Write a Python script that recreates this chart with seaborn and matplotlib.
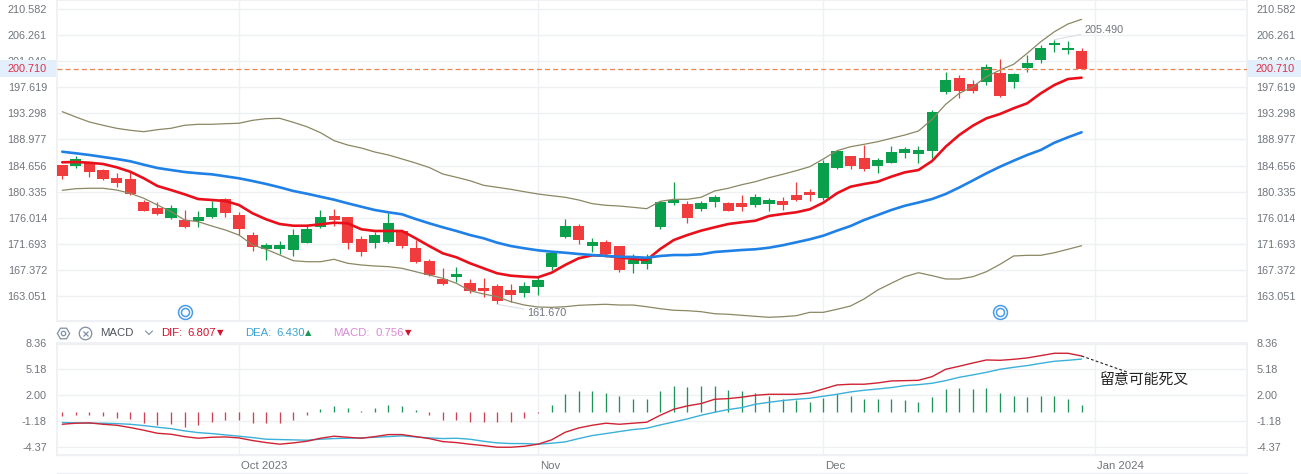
import matplotlib

matplotlib.use("Agg")

import matplotlib.pyplot as plt
import numpy as np
import pandas as pd
import seaborn as sns
from matplotlib.lines import Line2D
from matplotlib.patches import Rectangle
from matplotlib.transforms import ScaledTranslation

# daily candles
opens = [184.7, 184.6, 185.1, 183.9, 182.6, 182.5, 178.6, 177.7, 175.9, 175.6, 175.5, 176.1, 179.1, 176.5, 173.2, 170.9, 170.9, 170.6, 171.9,
         174.4, 176.3, 176.1, 172.5, 171.9, 172.0, 173.8, 171.0, 168.9, 165.8, 166.2, 165.2, 164.4, 164.7, 164.0, 163.6, 164.6, 167.9, 172.9,
         174.6, 171.3, 172.0, 171.3, 168.4, 168.4, 174.4, 178.5, 178.3, 177.5, 178.6, 178.5, 178.4, 178.2, 178.3, 178.8, 179.8, 180.3, 179.3,
         184.3, 186.2, 185.9, 184.5, 185.1, 186.8, 186.6, 187.1, 196.9, 199.1, 198.2, 198.5, 199.9, 198.5, 200.75, 202.1, 204.6, 203.7, 203.6]
highs = [184.7, 186.2, 185.2, 184.0, 183.4, 183.7, 179.0, 178.6, 178.1, 177.3, 177.1, 178.7, 179.3, 177.0, 173.6, 171.8, 172.2, 174.1, 174.8,
         177.3, 177.5, 176.1, 173.0, 173.7, 176.8, 173.9, 172.3, 169.2, 167.7, 167.8, 165.8, 166.0, 165.0, 165.0, 165.3, 166.2, 170.5, 175.8,
         175.0, 172.7, 172.3, 171.3, 170.0, 170.0, 178.7, 181.9, 178.8, 178.8, 179.8, 178.6, 179.7, 179.9, 179.3, 179.4, 181.9, 180.8, 185.5,
         187.2, 186.2, 188.1, 185.9, 187.9, 187.7, 187.9, 193.8, 200.1, 199.6, 198.8, 201.5, 202.3, 200.0, 203.0, 204.6, 205.49, 205.2, 204.1]
lows = [182.5, 184.2, 182.8, 182.3, 181.1, 179.8, 177.1, 176.5, 175.8, 174.3, 174.5, 176.0, 176.2, 173.2, 170.5, 169.0, 170.0, 169.6, 171.8,
        174.3, 174.6, 170.8, 169.7, 171.0, 171.9, 171.0, 168.5, 166.4, 164.8, 165.3, 163.6, 162.9, 161.67, 162.0, 162.9, 163.3, 167.4, 172.7,
        171.6, 170.4, 169.5, 167.1, 166.9, 167.5, 174.2, 178.2, 175.2, 177.2, 177.8, 177.1, 177.2, 177.8, 177.1, 177.3, 178.7, 178.7, 179.0,
        184.1, 184.0, 183.8, 183.4, 185.0, 185.9, 185.1, 185.9, 196.5, 195.9, 196.7, 198.0, 196.0, 197.5, 200.1, 201.7, 203.4, 203.1, 200.65]
closes = [182.9, 185.7, 183.6, 182.4, 181.8, 179.9, 177.2, 176.6, 177.6, 174.5, 176.1, 177.7, 176.8, 174.2, 171.2, 171.5, 171.5, 173.2, 174.1,
          176.1, 175.6, 171.9, 170.4, 173.2, 175.1, 171.3, 168.7, 166.5, 165.1, 166.7, 163.9, 163.9, 162.3, 163.3, 164.7, 165.7, 170.2, 174.6,
          172.4, 172.0, 170.0, 167.4, 169.0, 169.5, 178.6, 179.0, 176.0, 178.4, 179.4, 177.1, 177.8, 179.4, 179.0, 178.1, 179.0, 179.7, 185.1,
          187.1, 184.5, 184.1, 185.6, 186.9, 187.4, 187.2, 193.5, 198.8, 197.0, 197.0, 201.0, 196.2, 199.8, 201.6, 204.1, 205.0, 204.1, 200.71]

# moving average and bands
ma_short = [185.19, 185.24, 185.12, 184.91, 184.36, 183.63, 182.54, 181.27, 180.60, 179.89, 179.11, 178.95, 178.78, 178.12, 176.75, 175.75,
            174.97, 174.69, 174.69, 174.92, 175.19, 175.09, 174.10, 173.82, 173.82, 173.82, 172.61, 171.33, 170.12, 169.46, 168.47, 167.64,
            166.81, 166.42, 166.25, 166.15, 166.91, 168.19, 169.30, 169.79, 169.73, 169.46, 169.18, 169.01, 170.84, 172.33, 173.15, 173.87,
            174.43, 174.97, 175.26, 175.52, 176.30, 176.63, 176.91, 177.41, 178.50, 180.06, 181.15, 181.60, 181.98, 182.81, 183.53, 183.91,
            185.40, 187.77, 189.71, 191.25, 192.47, 193.19, 194.13, 194.96, 196.61, 197.99, 198.98, 199.20]
ma_mid = [186.94, 186.68, 186.40, 186.07, 185.74, 185.36, 184.79, 184.25, 183.91, 183.58, 183.37, 183.20, 182.87, 182.54, 182.09, 181.60,
          181.05, 180.44, 179.99, 179.49, 179.00, 178.40, 177.84, 177.29, 176.91, 176.58, 175.80, 175.09, 174.43, 173.82, 173.15, 172.61,
          171.88, 171.33, 170.95, 170.62, 170.39, 170.22, 170.01, 169.84, 169.68, 169.56, 169.51, 169.39, 169.68, 169.84, 169.84, 169.96,
          170.34, 170.50, 170.67, 170.79, 171.05, 171.45, 171.94, 172.44, 173.04, 173.87, 174.64, 175.64, 176.46, 177.29, 178.00, 178.53,
          179.11, 179.94, 181.02, 182.18, 183.37, 184.46, 185.45, 186.40, 187.23, 188.43, 189.33, 190.16]
band_upper = [193.57, 192.69, 191.86, 191.32, 190.82, 190.49, 190.26, 190.59, 190.82, 191.32, 191.48, 191.48, 191.58, 191.65, 192.14, 192.41,
              192.47, 191.81, 191.08, 190.09, 188.77, 188.05, 187.56, 186.89, 186.40, 185.74, 185.07, 184.33, 183.25, 182.71, 182.14, 181.38,
              181.05, 180.72, 180.32, 179.94, 179.66, 179.40, 178.95, 178.34, 178.07, 177.95, 177.74, 177.51, 178.73, 179.06, 179.06, 179.40,
              180.44, 180.89, 181.48, 181.98, 182.64, 183.20, 183.80, 184.46, 185.74, 187.11, 187.77, 188.17, 188.60, 189.16, 189.71, 190.37,
              192.31, 194.79, 196.61, 197.71, 199.36, 200.47, 201.41, 203.24, 205.16, 206.81, 208.09, 208.86]
band_lower = [180.55, 180.82, 180.89, 180.89, 180.60, 180.06, 179.23, 178.12, 177.01, 175.64, 175.36, 174.64, 173.98, 173.15, 171.50, 170.79,
              169.84, 168.90, 168.73, 168.73, 169.13, 168.47, 168.19, 168.02, 167.91, 167.64, 167.08, 166.53, 165.98, 165.16, 163.93, 163.39,
              162.94, 162.11, 161.56, 161.23, 161.18, 161.28, 161.51, 161.61, 161.68, 161.56, 161.56, 161.28, 160.95, 160.69, 160.62, 160.46,
              160.12, 160.03, 159.86, 159.69, 159.53, 159.63, 159.79, 160.35, 160.35, 160.85, 161.40, 162.56, 164.05, 165.16, 166.25, 166.91,
              166.42, 165.87, 165.87, 166.25, 167.08, 168.30, 169.68, 169.79, 169.79, 170.22, 170.79, 171.38]

# MACD pane
dif = [-1.55, -1.42, -1.38, -1.55, -1.67, -1.95, -2.28, -2.65, -2.77, -3.06, -3.26, -3.14, -3.10, -3.22, -3.54, -3.79, -3.99, -3.83, -3.63,
       -3.26, -3.01, -3.14, -3.26, -3.06, -2.81, -2.81, -3.06, -3.30, -3.67, -3.79, -3.99, -4.16, -4.36, -4.36, -4.24, -3.99, -3.46, -2.53,
       -2.00, -1.67, -1.42, -1.55, -1.42, -1.30, -0.45, 0.29, 0.70, 0.98, 1.51, 1.59, 1.76, 2.00, 2.12, 2.12, 2.12, 2.29, 2.77, 3.26, 3.35,
       3.35, 3.51, 3.75, 3.79, 3.83, 4.28, 5.18, 5.55, 5.95, 6.32, 6.28, 6.40, 6.57, 6.85, 7.14, 7.14, 6.807]
dea = [-1.34, -1.38, -1.42, -1.42, -1.47, -1.55, -1.71, -1.91, -2.08, -2.36, -2.57, -2.69, -2.85, -3.01, -3.18, -3.38, -3.42, -3.46, -3.50,
       -3.38, -3.30, -3.26, -3.22, -3.14, -3.06, -2.97, -3.10, -3.22, -3.30, -3.26, -3.38, -3.63, -3.83, -3.91, -3.91, -3.99, -3.87, -3.71,
       -3.30, -2.93, -2.69, -2.44, -2.20, -2.04, -1.63, -1.26, -0.89, -0.45, -0.08, 0.25, 0.49, 0.90, 1.14, 1.35, 1.51, 1.63, 1.88, 2.12, 2.41,
       2.61, 2.77, 2.94, 3.18, 3.30, 3.47, 3.79, 4.20, 4.49, 4.81, 5.18, 5.42, 5.63, 5.91, 6.16, 6.28, 6.430]
macd = [-0.57, -0.41, -0.41, -0.57, -0.73, -0.90, -1.39, -1.67, -1.55, -1.88, -1.67, -1.22, -0.98, -1.06, -1.39, -1.39, -1.39, -0.98, -0.45,
        0.33, 0.65, 0.41, 0.12, 0.41, 0.77, 0.65, 0.24, -0.45, -0.98, -0.98, -1.22, -1.22, -1.30, -1.22, -0.73, -0.20, 0.77, 2.10, 2.49, 2.57,
        2.32, 1.88, 1.59, 1.51, 2.57, 3.18, 3.06, 3.18, 3.18, 2.69, 2.49, 2.32, 1.96, 1.59, 1.38, 1.22, 1.71, 2.10, 1.96, 1.59, 1.51, 1.51,
        1.38, 1.14, 1.75, 2.73, 2.85, 2.73, 2.94, 2.24, 1.96, 1.84, 1.96, 1.96, 1.59, 0.756]

price_ticks = [210.582, 206.261, 201.940, 197.619, 193.298, 188.977, 184.656, 180.335, 176.014, 171.693, 167.372, 163.051]
macd_ticks = [8.36, 5.18, 2.00, -1.18, -4.37]
date_ticks = [13, 35, 56, 76]
date_labels = ["Oct 2023", "Nov", "Dec", "Jan 2024"]
marker_days = [9, 69]

W, H = 1301, 474
GREY = "#70757c"
GRID = "#eef0f4"
UP = "#0a9f4a"
DOWN = "#f03c3c"


def fx(px):
    return px / W


def fy(px):
    return 1 - px / H


def pane(fig, top, bottom):
    left, right = 56.7, 1246.7
    return fig.add_axes([fx(left), fy(bottom), fx(right - left), (bottom - top) / H])


def label(fig, px, py, text, color, size=8.2, **kw):
    fig.text(fx(px), fy(py), text, color=color, fontsize=size, va="center", zorder=6, **kw)


def style_axes(ax, yticks, fmt):
    ax.set_xlim(-0.41, 87.15)
    ax.set_yticks(yticks)
    ax.set_yticklabels([fmt.format(t) for t in yticks])
    ax.set_xticks(date_ticks)
    ax.grid(True, color=GRID, linewidth=1)
    ax.set_axisbelow(True)
    ax.tick_params(axis="y", length=0, pad=7, labelsize=7.8, labelcolor=GREY, labelleft=True, labelright=True)
    ax.tick_params(axis="x", length=0)
    ax.set_xlabel("")
    ax.set_ylabel("")
    for spine in ax.spines.values():
        spine.set_color(GRID)


def main():
    sns.set_theme(style="white")
    plt.rcParams["font.family"] = ["Liberation Sans", "Noto Sans CJK SC", "DejaVu Sans"]

    df = pd.DataFrame({"open": opens, "high": highs, "low": lows, "close": closes,
                       "ma_short": ma_short, "ma_mid": ma_mid, "upper": band_upper, "lower": band_lower,
                       "dif": dif, "dea": dea, "macd": macd})
    df["day"] = np.arange(len(df))
    rising = df["close"] >= df["open"]
    colors = np.where(rising, UP, DOWN)

    fig = plt.figure(figsize=(W / 100, H / 100), dpi=100, facecolor="white")
    ax = pane(fig, 0, 320.5)
    ax2 = pane(fig, 343.3, 454.5)

    ax.vlines(df["day"], df["low"], df["high"], colors=colors, linewidth=0.9, zorder=2)
    ax.bar(df["day"], (df["close"] - df["open"]).abs(), bottom=df[["open", "close"]].min(axis=1),
           width=0.82, color=colors, linewidth=0, zorder=3)

    sns.lineplot(data=df, x="day", y="upper", ax=ax, color="#8b8763", linewidth=0.9, zorder=4)
    sns.lineplot(data=df, x="day", y="lower", ax=ax, color="#8b8763", linewidth=0.9, zorder=4)
    sns.lineplot(data=df, x="day", y="ma_short", ax=ax, color="#e8101a", linewidth=1.9, zorder=5)
    sns.lineplot(data=df, x="day", y="ma_mid", ax=ax, color="#1f80e6", linewidth=1.9, zorder=5)

    last_close = closes[-1]
    ax.axhline(last_close, color="#ec8452", linewidth=0.9, linestyle=(0, (4, 2.5)), zorder=6)

    style_axes(ax, price_ticks, "{:.3f}")
    ax.set_ylim(212.06 - 320.5 * 0.16556, 212.06)
    ax.set_xticklabels([])

    # high / low callouts
    low_day, high_day = int(np.argmin(lows)), int(np.argmax(highs))
    callout = dict(arrowstyle="-", color="#dcdfe4", linewidth=0.8, shrinkA=0, shrinkB=0)
    ax.annotate(f"{lows[low_day]:.3f}", xy=(low_day, lows[low_day]), xytext=(34.2, 160.24),
                color=GREY, fontsize=7.8, va="center", arrowprops=callout, zorder=6, annotation_clip=False)
    ax.annotate(f"{highs[high_day]:.3f}", xy=(high_day, highs[high_day]), xytext=(75.2, 207.09),
                color=GREY, fontsize=7.8, va="center", arrowprops=callout, zorder=6)

    # round event markers
    marker_y = [160.4] * len(marker_days)
    ax.plot(marker_days, marker_y, ls="", marker="o", ms=10, mfc="white", mec="#4a9be8", mew=1.1, zorder=7, clip_on=False)
    ax.plot(marker_days, marker_y, ls="", marker="o", ms=5.8, mfc="none", mec="#4a9be8", mew=1.1, zorder=8, clip_on=False)

    # MACD pane
    hist_colors = np.where(df["macd"] >= 0, "#1d9558", "#cf4253")
    ax2.vlines(df["day"], 0, df["macd"], colors=hist_colors, linewidth=0.95, zorder=2)
    sns.lineplot(data=df, x="day", y="dea", ax=ax2, color="#3bb0d8", linewidth=1.0, zorder=3)
    sns.lineplot(data=df, x="day", y="dif", ax=ax2, color="#cf2233", linewidth=1.0, zorder=4)

    style_axes(ax2, macd_ticks, "{:.2f}")
    ax2.set_ylim(-5.25, 8.36)
    ax2.set_xticklabels(date_labels, ha="left", color=GREY, fontsize=8.2)
    ax2.tick_params(axis="x", pad=4.5)
    nudge = ScaledTranslation(2 / 100, 0, fig.dpi_scale_trans)
    for tick_text in ax2.get_xticklabels():
        tick_text.set_transform(tick_text.get_transform() + nudge)

    # hand drawn note
    ax2.plot([75, 78.34], [dif[-1], 4.85], color="#222222", linewidth=0.8, linestyle=(0, (2.5, 2)), zorder=5)
    ax2.text(76.36, 3.75, "留意可能死叉", color="#222222", fontsize=10.7, va="center", zorder=6)

    # thin rules around the strips
    for py in (320.5, 343.6, 454.5, 473):
        fig.add_artist(Line2D([fx(56.7), fx(1246.7)], [fy(py), fy(py)], color=GRID, linewidth=1, zorder=1))

    # last price tags cover the tick below them
    for x0, x1 in ((0, 56), (1247, W)):
        fig.add_artist(Rectangle((fx(x0), fy(77)), fx(x1 - x0), 17 / H, transform=fig.transFigure,
                                 facecolor="#e3effa", edgecolor="none", zorder=5))
    label(fig, 46.5, 68.5, f"{last_close:.3f}", "#d9304a", size=7.8, ha="right")
    label(fig, 1256, 68.5, f"{last_close:.3f}", "#d9304a", size=7.8, ha="left")

    # legend strip above the MACD pane
    strip = 332.7
    icon = "#7f8fa3"
    fig.add_artist(Line2D([fx(63)], [fy(strip)], marker="H", ms=8.8, mfc="none", mec=icon, mew=0.9, transform=fig.transFigure))
    fig.add_artist(Line2D([fx(63)], [fy(strip)], marker="o", ms=3.2, mfc="none", mec=icon, mew=0.9, transform=fig.transFigure))
    fig.add_artist(Line2D([fx(85)], [fy(strip)], marker="o", ms=9, mfc="none", mec=icon, mew=0.9, transform=fig.transFigure))
    fig.add_artist(Line2D([fx(85)], [fy(strip)], marker="x", ms=3.6, mfc="none", mec=icon, mew=0.9, transform=fig.transFigure))
    fig.add_artist(Line2D([fx(145.5), fx(149), fx(152.5)], [fy(331), fy(334.5), fy(331)], color=icon, linewidth=0.8))

    label(fig, 100.5, strip, "MACD", "#4f545c")
    label(fig, 161, strip, "DIF:", "#d2122e")
    label(fig, 187, strip, f"{dif[-1]:.3f}", "#d2122e")
    label(fig, 220, strip, "▼", "#d2122e", size=6, family="DejaVu Sans", ha="center")
    label(fig, 245, strip, "DEA:", "#3ba3d0")
    label(fig, 276, strip, f"{dea[-1]:.3f}", "#3ba3d0")
    label(fig, 308, strip, "▲", "#1d9558", size=6, family="DejaVu Sans", ha="center")
    label(fig, 333, strip, "MACD:", "#d98ad6")
    label(fig, 375, strip, f"{macd[-1]:.3f}", "#d98ad6")
    label(fig, 408, strip, "▼", "#d2122e", size=6, family="DejaVu Sans", ha="center")

    fig.savefig("out.png", dpi=100, facecolor="white")
    plt.close(fig)


if __name__ == "__main__":
    main()
